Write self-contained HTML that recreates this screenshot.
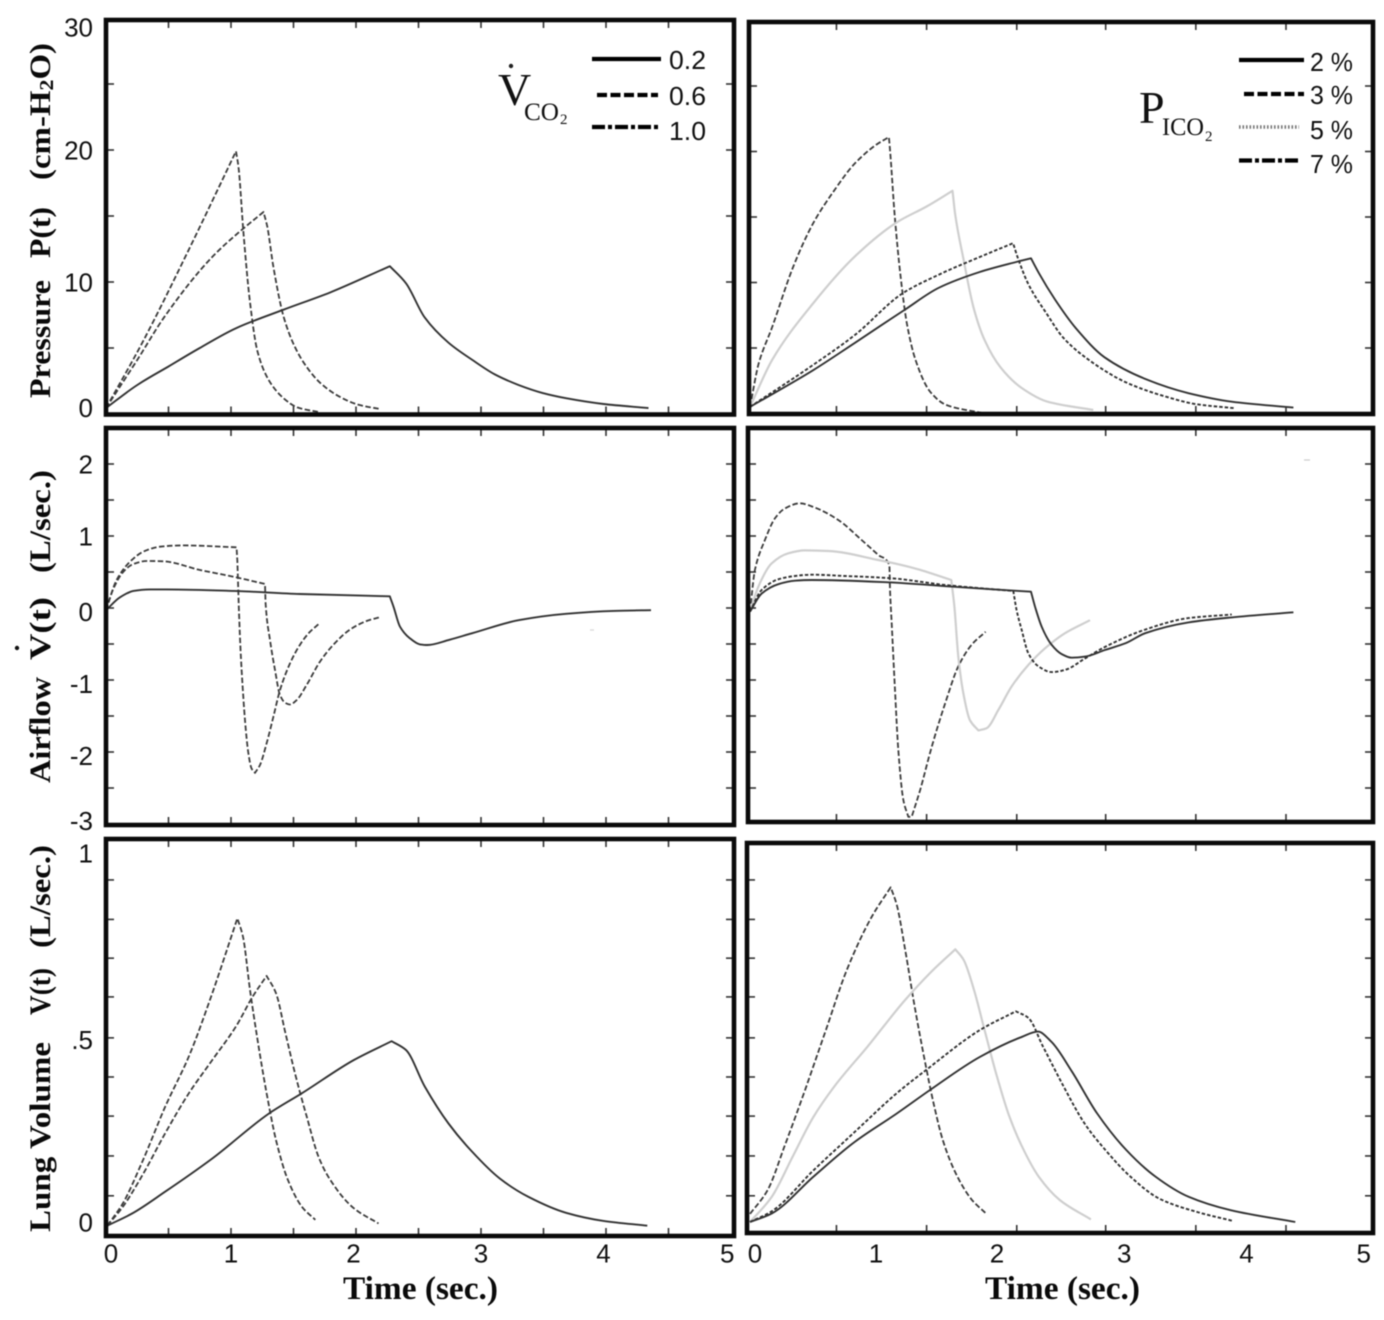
<!DOCTYPE html>
<html lang="en">
<head>
<meta charset="utf-8">
<title>Pressure, airflow and lung volume versus time</title>
<style>
html,body{margin:0;padding:0;background:#fff;}
#chart{display:block;filter:blur(.5px);}
.num{font-family:"Liberation Sans",sans-serif;font-size:26px;fill:#111;}
.ttl{font-family:"Liberation Serif",serif;font-weight:bold;font-size:30px;fill:#0a0a0a;}
.xt{font-family:"Liberation Serif",serif;font-weight:bold;font-size:33px;fill:#0a0a0a;}
.big{font-family:"Liberation Serif",serif;font-size:46px;fill:#111;}
.sub{font-family:"Liberation Serif",serif;font-size:25px;fill:#111;}
.sub2{font-family:"Liberation Serif",serif;font-size:15px;fill:#111;}
</style>
</head>
<body>
<svg id="chart" xmlns="http://www.w3.org/2000/svg" width="1384" height="1320" viewBox="0 0 1384 1320">
<rect width="1384" height="1320" fill="#fff"/>

<g>
<text class="ttl" transform="translate(50,398) rotate(-90)" textLength="118" lengthAdjust="spacingAndGlyphs">Pressure</text>
<text class="ttl" transform="translate(50,258) rotate(-90)" textLength="51" lengthAdjust="spacingAndGlyphs">P(t)</text>
<text class="ttl" transform="translate(50,180) rotate(-90)" textLength="137" lengthAdjust="spacingAndGlyphs">(cm-H<tspan font-size="20" dy="3">2</tspan><tspan dy="-3">O)</tspan></text>

<text class="ttl" transform="translate(50,783) rotate(-90)" textLength="106" lengthAdjust="spacingAndGlyphs">Airflow</text>
<text class="ttl" transform="translate(50,660) rotate(-90)" textLength="63" lengthAdjust="spacingAndGlyphs">V(t)</text>
<circle cx="17" cy="648" r="2.2" fill="#111"/>
<text class="ttl" transform="translate(50,573) rotate(-90)" textLength="103" lengthAdjust="spacingAndGlyphs">(L/sec.)</text>

<text class="ttl" transform="translate(50,1232) rotate(-90)" textLength="190" lengthAdjust="spacingAndGlyphs">Lung Volume</text>
<text class="ttl" transform="translate(50,1015) rotate(-90)" textLength="47" lengthAdjust="spacingAndGlyphs">V(t)</text>
<text class="ttl" transform="translate(50,948) rotate(-90)" textLength="103" lengthAdjust="spacingAndGlyphs">(L/sec.)</text>
</g>

<text class="xt" x="343" y="1299" textLength="155" lengthAdjust="spacingAndGlyphs">Time (sec.)</text>
<text class="xt" x="985" y="1299" textLength="155" lengthAdjust="spacingAndGlyphs">Time (sec.)</text>

<g id="panels"></g>

<line x1="590" y1="630" x2="594" y2="630" stroke="#ddd" stroke-width="1.5"/>
<line x1="1304" y1="460" x2="1310" y2="460" stroke="#ccc" stroke-width="1.2"/>

<g>
<text class="big" x="498" y="105">V</text>
<circle cx="511" cy="66" r="2.2" fill="#222"/>
<text class="sub" x="524" y="120" textLength="35" lengthAdjust="spacingAndGlyphs">CO</text>
<text class="sub2" x="560" y="124">2</text>
<line x1="592" y1="59" x2="661" y2="59" stroke="#000" stroke-width="4.2"/>
<text class="num" x="669" y="69" textLength="37" lengthAdjust="spacingAndGlyphs">0.2</text>
<line x1="597" y1="95" x2="658" y2="95" stroke="#000" stroke-width="4.2" stroke-dasharray="10 3.500"/>
<text class="num" x="669" y="105" textLength="37" lengthAdjust="spacingAndGlyphs">0.6</text>
<line x1="592" y1="127" x2="658" y2="127" stroke="#000" stroke-width="4.2" stroke-dasharray="13 3 4 3"/>
<text class="num" x="669" y="140" textLength="37" lengthAdjust="spacingAndGlyphs">1.0</text>
</g>

<g>
<text class="big" x="1139" y="123">P</text>
<text class="sub" x="1162" y="135" textLength="42" lengthAdjust="spacingAndGlyphs">ICO</text>
<text class="sub2" x="1205" y="141">2</text>
<line x1="1239" y1="60" x2="1304" y2="60" stroke="#000" stroke-width="4.2"/>
<text class="num" x="1310" y="71" textLength="43" lengthAdjust="spacingAndGlyphs">2 %</text>
<line x1="1244" y1="94" x2="1304" y2="94" stroke="#000" stroke-width="4.2" stroke-dasharray="10 3.500"/>
<text class="num" x="1310" y="104" textLength="43" lengthAdjust="spacingAndGlyphs">3 %</text>
<line x1="1239" y1="127" x2="1299" y2="127" stroke="#777" stroke-width="3.4" stroke-dasharray="1.600 1.900"/>
<text class="num" x="1310" y="139" textLength="43" lengthAdjust="spacingAndGlyphs">5 %</text>
<line x1="1239" y1="160.500" x2="1301" y2="160.500" stroke="#000" stroke-width="4.2" stroke-dasharray="13 3 4 3"/>
<text class="num" x="1310" y="173" textLength="43" lengthAdjust="spacingAndGlyphs">7 %</text>
</g>
</svg>

<script>
// ---- Tick data ----
const leftTimeTicks = [0.5,1,1.5,2,2.5,3,3.5,4,4.5];
const rightTimeTicks = [0.7,1.43,2.16,2.88,3.61,4.34];
const pressureTicks = [5,10,15,20,25];
const airflowTicks = [2,1.5,1,0.5,0,-0.5,-1,-1.5,-2,-2.5];
const volumeTicks = [0.927,0.82,0.715,0.61,0.499,0.393,0.287,0.179,0.071];
const pressureTickLabels = ["30","20","10","0"];
const pressureLabelAt = [29.3,20,10,0.5];
const airflowTickLabels = ["2","1","0","-1","-2","-3"];
const airflowLabelAt = [2,1,-0.05,-1.05,-2.05,-2.95];
const volumeTickLabels = ["1",".5","0"];
const volumeLabelAt = [1,0.495,0];
const timeTickLabels = ["0","1","2","3","4","5"];
const leftTimeLabelAt = [0.04,1,1.98,3,3.98,4.97];
const rightTimeLabelAt = [0.04,1.02,2.0,3.03,4.02,4.97];

// ---- Pressure, VCO2 panel ----
const pL_02_t = [0,0.25,0.5,0.75,1.04,1.42,1.79,2.27,2.4,2.55,2.74,2.93,3.11,3.3,3.49,3.68,3.98,4.34];
const pL_02_v = [0.45,2.2,3.6,5.0,6.5,7.9,9.2,11.2,9.9,7.3,5.4,4.1,3.0,2.2,1.6,1.2,0.76,0.45];
const pL_06_t = [0,0.25,0.47,0.85,1.08,1.26,1.29,1.34,1.42,1.51,1.61,1.72,1.87,2.02,2.19];
const pL_06_v = [0.45,4.1,7.4,11.9,13.9,15.3,14.2,11.1,7.4,5.1,3.5,2.3,1.3,0.7,0.38];
const pL_10_t = [0,0.29,0.66,1.04,1.06,1.1,1.15,1.21,1.3,1.42,1.53,1.7];
const pL_10_v = [0.45,5.4,12.4,19.9,18.7,13.7,8.6,4.8,2.6,1.2,0.5,0.15];

// ---- Pressure, PICO2 panel ----
const pR_2_t = [0,0.51,0.85,1.25,1.53,1.86,2.17,2.275,2.34,2.47,2.64,2.87,3.21,3.55,3.9,4.4];
const pR_2_v = [0.5,3.3,5.4,7.9,9.6,10.8,11.6,11.85,10.7,8.7,6.5,4.3,2.6,1.55,0.9,0.45];
const pR_3_t = [0,0.51,0.85,1.24,1.53,1.86,2.13,2.17,2.25,2.4,2.54,2.78,3.04,3.38,3.62,3.93];
const pR_3_v = [0.5,3.7,6,9.2,10.6,11.95,13,11.85,9.95,7.65,5.75,3.85,2.4,1.25,0.7,0.4];
const pR_5_t = [0,0.18,0.51,0.85,1.19,1.43,1.64,1.66,1.73,1.81,1.9,2.03,2.2,2.41,2.78];
const pR_5_v = [0.5,4.1,8.4,12,14.6,15.8,17,15.3,11.7,8.1,5.6,3.5,1.95,0.9,0.27];
const pR_7_t = [0,0.07,0.18,0.35,0.51,0.68,0.85,1.02,1.125,1.14,1.17,1.22,1.27,1.34,1.46,1.59,1.88];
const pR_7_v = [0.5,3.8,6.6,11.2,14.5,17,19.1,20.5,21.1,19.35,15.3,10.4,6.9,4.1,1.65,0.65,0.04];

// ---- Airflow, VCO2 panel ----
const fL_02_t = [0,0.112,0.219,0.352,0.485,1.02,1.55,2.27,2.3,2.352,2.43,2.512,2.57,2.75,2.93,3.3,3.68,4.06,4.36];
const fL_02_v = [-0.03,0.149,0.237,0.259,0.259,0.237,0.195,0.162,0.018,-0.26,-0.42,-0.505,-0.514,-0.44,-0.35,-0.17,-0.08,-0.04,-0.03];
const fL_06_t = [0,0.059,0.139,0.219,0.325,0.459,0.752,1.045,1.272,1.277,1.312,1.352,1.392,1.432,1.472,1.525,1.605,1.712,1.819,1.952,2.085,2.187];
const fL_06_v = [-0.03,0.268,0.504,0.611,0.653,0.648,0.528,0.425,0.333,0.065,-0.444,-0.861,-1.21,-1.315,-1.34,-1.28,-1.07,-0.745,-0.51,-0.3,-0.18,-0.13];
const fL_10_t = [0,0.085,0.192,0.299,0.432,0.619,1.045,1.05,1.066,1.085,1.112,1.139,1.165,1.192,1.232,1.285,1.339,1.392,1.472,1.552,1.632,1.704];
const fL_10_v = [-0.03,0.389,0.643,0.783,0.852,0.87,0.843,0.667,-0.167,-0.86,-1.56,-2.02,-2.23,-2.29,-2.18,-1.88,-1.51,-1.14,-0.77,-0.51,-0.33,-0.22];

// ---- Airflow, PICO2 panel ----
const fR_2_t = [0,0.094,0.229,0.364,0.499,1.12,1.63,2.275,2.308,2.362,2.443,2.524,2.605,2.713,2.874,3.04,3.2,3.55,3.9,4.4];
const fR_2_v = [-0.05,0.2,0.33,0.379,0.389,0.357,0.297,0.227,0.019,-0.26,-0.513,-0.64,-0.69,-0.675,-0.583,-0.49,-0.35,-0.2,-0.13,-0.06];
const fR_3_t = [0,0.094,0.229,0.364,0.499,0.769,1.147,1.58,2.132,2.159,2.2,2.254,2.335,2.443,2.551,2.713,2.875,3.2,3.55,3.9];
const fR_3_v = [-0.05,0.25,0.398,0.445,0.463,0.445,0.412,0.32,0.236,-0.03,-0.305,-0.63,-0.81,-0.89,-0.86,-0.7,-0.54,-0.3,-0.14,-0.09];
const fR_5_t = [0,0.067,0.175,0.31,0.445,0.634,1.039,1.336,1.63,1.655,1.687,1.727,1.781,1.849,1.916,2.01,2.118,2.254,2.389,2.551,2.753];
const fR_5_v = [-0.05,0.295,0.62,0.76,0.8,0.791,0.667,0.55,0.389,0.019,-0.676,-1.18,-1.56,-1.7,-1.67,-1.42,-1.09,-0.79,-0.56,-0.35,-0.17];
const fR_7_t = [0,0.04,0.121,0.202,0.283,0.405,0.526,0.715,0.904,1.039,1.128,1.134,1.147,1.174,1.201,1.242,1.282,1.309,1.377,1.471,1.579,1.687,1.795,1.908];
const fR_7_v = [-0.05,0.528,0.944,1.245,1.384,1.454,1.394,1.222,0.944,0.736,0.597,0.25,-0.213,-1.14,-1.97,-2.67,-2.9,-2.9,-2.53,-1.93,-1.33,-0.81,-0.51,-0.33];

// ---- Lung volume, VCO2 panel ----
const vL_02_t = [0.01,0.209,0.473,0.85,1.304,1.568,1.983,2.285,2.4,2.55,2.74,2.93,3.15,3.38,3.68,3.98,4.33];
const vL_02_v = [-0.01,0.023,0.082,0.172,0.294,0.349,0.439,0.49,0.466,0.367,0.267,0.19,0.118,0.068,0.025,0.003,-0.01];
const vL_06_t = [0.01,0.134,0.285,0.473,0.663,0.85,1.04,1.172,1.285,1.36,1.436,1.512,1.606,1.7,1.794,1.983,2.18];
const vL_06_v = [-0.01,0.041,0.123,0.24,0.349,0.439,0.53,0.61,0.667,0.62,0.511,0.403,0.285,0.177,0.114,0.037,-0.004];
const vL_10_t = [0.01,0.134,0.285,0.473,0.663,0.85,1.051,1.096,1.152,1.208,1.285,1.36,1.455,1.568,1.674];
const vL_10_v = [-0.01,0.05,0.159,0.312,0.449,0.62,0.823,0.773,0.629,0.503,0.349,0.222,0.114,0.041,0.006];

// ---- Lung volume, PICO2 panel ----
const vR_2_t = [0,0.176,0.514,0.851,1.189,1.459,1.865,2.203,2.331,2.439,2.608,2.811,3.047,3.283,3.554,3.892,4.415];
const vR_2_v = [0,0.023,0.123,0.218,0.294,0.358,0.448,0.502,0.516,0.489,0.407,0.294,0.195,0.123,0.068,0.032,0];
const vR_3_t = [0,0.176,0.514,0.851,1.189,1.426,1.865,2.152,2.254,2.372,2.54,2.709,2.878,3.08,3.317,3.621,3.909];
const vR_3_v = [0,0.029,0.14,0.245,0.349,0.412,0.521,0.571,0.553,0.476,0.367,0.267,0.195,0.123,0.063,0.027,0.003];
const vR_5_t = [0,0.176,0.345,0.514,0.682,0.953,1.257,1.459,1.662,1.73,1.814,1.899,2.0,2.101,2.203,2.338,2.507,2.76];
const vR_5_v = [0,0.068,0.177,0.285,0.367,0.476,0.602,0.675,0.739,0.71,0.629,0.521,0.394,0.285,0.204,0.123,0.06,0.007];
const vR_7_t = [0,0.142,0.277,0.446,0.615,0.784,0.987,1.139,1.189,1.257,1.324,1.409,1.493,1.561,1.679,1.797,1.905];
const vR_7_v = [0.022,0.086,0.203,0.358,0.521,0.683,0.828,0.907,0.859,0.737,0.602,0.448,0.312,0.222,0.123,0.06,0.025];

// ---- Panel layout and axis functions ----
const SOLID = {stroke:'#333', width:1.9, dash:''};
const SHORT = {stroke:'#333', width:1.9, dash:'3.5 2'};
const DASH = {stroke:'#3c3c3c', width:1.8, dash:'5.5 2.5'};
const PALE = {stroke:'#cfcfcf', width:2.2, dash:''};

const leftX = t => 106 + 125 * t;
const rightX = t => 750 + 123.5 * t;
const pressureLY = v => 414 - 13.2 * v;
const pressureRY = v => 413.5 - 13.1 * v;
const airflowY = v => 608 - 72 * v;
const volumeY = v => 1222 - 369 * v;

const panels = [
  {name:'pressure-vco2', box:[106,20,734,414.5], x:leftX, y:pressureLY, xt:leftTimeTicks, yt:pressureTicks, yl:pressureTickLabels, ya:pressureLabelAt,
   series:[['0.2',pL_02_t,pL_02_v,SOLID],['0.6',pL_06_t,pL_06_v,DASH],['1.0',pL_10_t,pL_10_v,DASH]]},
  {name:'pressure-pico2', box:[749,22,1373,414], x:rightX, y:pressureRY, xt:rightTimeTicks, yt:pressureTicks,
   series:[['2-percent',pR_2_t,pR_2_v,SOLID],['3-percent',pR_3_t,pR_3_v,SHORT],['5-percent',pR_5_t,pR_5_v,PALE],['7-percent',pR_7_t,pR_7_v,DASH]]},
  {name:'airflow-vco2', box:[106,428,734,825], x:leftX, y:airflowY, xt:leftTimeTicks, yt:airflowTicks, yl:airflowTickLabels, ya:airflowLabelAt,
   series:[['0.2',fL_02_t,fL_02_v,SOLID],['0.6',fL_06_t,fL_06_v,DASH],['1.0',fL_10_t,fL_10_v,DASH]]},
  {name:'airflow-pico2', box:[748,428,1373,822], x:rightX, y:airflowY, xt:rightTimeTicks, yt:airflowTicks,
   series:[['2-percent',fR_2_t,fR_2_v,SOLID],['3-percent',fR_3_t,fR_3_v,SHORT],['5-percent',fR_5_t,fR_5_v,PALE],['7-percent',fR_7_t,fR_7_v,DASH]]},
  {name:'volume-vco2', box:[106,839,734,1236], x:leftX, y:volumeY, xt:leftTimeTicks, yt:volumeTicks, yl:volumeTickLabels, ya:volumeLabelAt, tl:leftTimeLabelAt,
   series:[['0.2',vL_02_t,vL_02_v,SOLID],['0.6',vL_06_t,vL_06_v,DASH],['1.0',vL_10_t,vL_10_v,DASH]]},
  {name:'volume-pico2', box:[747,843,1373,1233], x:rightX, y:volumeY, xt:rightTimeTicks, yt:volumeTicks, tl:rightTimeLabelAt,
   series:[['2-percent',vR_2_t,vR_2_v,SOLID],['3-percent',vR_3_t,vR_3_v,SHORT],['5-percent',vR_5_t,vR_5_v,PALE],['7-percent',vR_7_t,vR_7_v,DASH]]}
];

const NS = 'http://www.w3.org/2000/svg';
function make(parent, tag, attrs) {
  const el = document.createElementNS(NS, tag);
  for (const k in attrs) el.setAttribute(k, attrs[k]);
  parent.appendChild(el);
  return el;
}

// Smooth path through the mapped points; sharp corners stay sharp.
function curvePath(xs, ys) {
  const n = xs.length;
  const sec = [];
  for (let i = 0; i < n - 1; i++) sec.push((ys[i + 1] - ys[i]) / (xs[i + 1] - xs[i]));
  const outT = new Array(n);
  const inT = new Array(n);
  outT[0] = sec[0];
  inT[n - 1] = sec[n - 2];
  for (let i = 1; i < n - 1; i++) {
    const angle = Math.abs(Math.atan(sec[i - 1]) - Math.atan(sec[i])) * 180 / Math.PI;
    if (angle > 55) {
      inT[i] = sec[i - 1];
      outT[i] = sec[i];
    } else if (sec[i - 1] * sec[i] <= 0) {
      inT[i] = outT[i] = 0;
    } else {
      const h0 = xs[i] - xs[i - 1];
      const h1 = xs[i + 1] - xs[i];
      const w0 = 2 * h1 + h0;
      const w1 = h1 + 2 * h0;
      inT[i] = outT[i] = (w0 + w1) / (w0 / sec[i - 1] + w1 / sec[i]);
    }
  }
  let d = 'M' + xs[0].toFixed(1) + ' ' + ys[0].toFixed(1);
  for (let i = 0; i < n - 1; i++) {
    const h = (xs[i + 1] - xs[i]) / 3;
    d += 'C' + (xs[i] + h).toFixed(1) + ' ' + (ys[i] + outT[i] * h).toFixed(1) + ' ' +
      (xs[i + 1] - h).toFixed(1) + ' ' + (ys[i + 1] - inT[i + 1] * h).toFixed(1) + ' ' +
      xs[i + 1].toFixed(1) + ' ' + ys[i + 1].toFixed(1);
  }
  return d;
}

const root = document.getElementById('panels');
panels.forEach(function (p) {
  const g = make(root, 'g', {});
  
  
  const [x0, y0, x1, y1] = p.box;

  // Series are drawn first so the frame sits over them.
  p.series.slice().reverse().forEach(function (s) {
    const d = curvePath(s[1].map(p.x), s[2].map(p.y));
    const line = make(g, 'path', {d: d, fill: 'none', stroke: s[3].stroke, 'stroke-width': s[3].width, 'stroke-linejoin': 'round'});
    if (s[3].dash) line.setAttribute('stroke-dasharray', s[3].dash);
    
    
  });

  p.xt.forEach(function (t) {
    const top = make(g, 'line', {x1: p.x(t), x2: p.x(t), y1: y0, y2: y0 + 8, stroke: '#333', 'stroke-width': 1.6});
    
    
    const bottom = make(g, 'line', {x1: p.x(t), x2: p.x(t), y1: y1, y2: y1 - 8, stroke: '#333', 'stroke-width': 1.6});
    
    
  });
  p.yt.forEach(function (v) {
    const a = make(g, 'line', {x1: x0, x2: x0 + 8, y1: p.y(v), y2: p.y(v), stroke: '#333', 'stroke-width': 1.6});
    
    
    const b = make(g, 'line', {x1: x1, x2: x1 - 8, y1: p.y(v), y2: p.y(v), stroke: '#333', 'stroke-width': 1.6});
    
    
  });

  const frame = make(g, 'rect', {x: x0, y: y0, width: x1 - x0, height: y1 - y0, fill: 'none', stroke: '#0a0a0a', 'stroke-width': 4.6});
  
  

  if (p.yl) {
    p.yl.forEach(function (label, i) {
      const t = make(g, 'text', {class: 'num', x: 93, y: p.y(p.ya[i]) + 9.5, 'text-anchor': 'end'});
      t.textContent = label;
      
      
    });
  }
  if (p.tl) {
    timeTickLabels.forEach(function (label, i) {
      const t = make(g, 'text', {class: 'num', x: p.x(p.tl[i]), y: 1262.5, 'text-anchor': 'middle'});
      t.textContent = label;
      
      
    });
  }
});
</script>
</body>
</html>
